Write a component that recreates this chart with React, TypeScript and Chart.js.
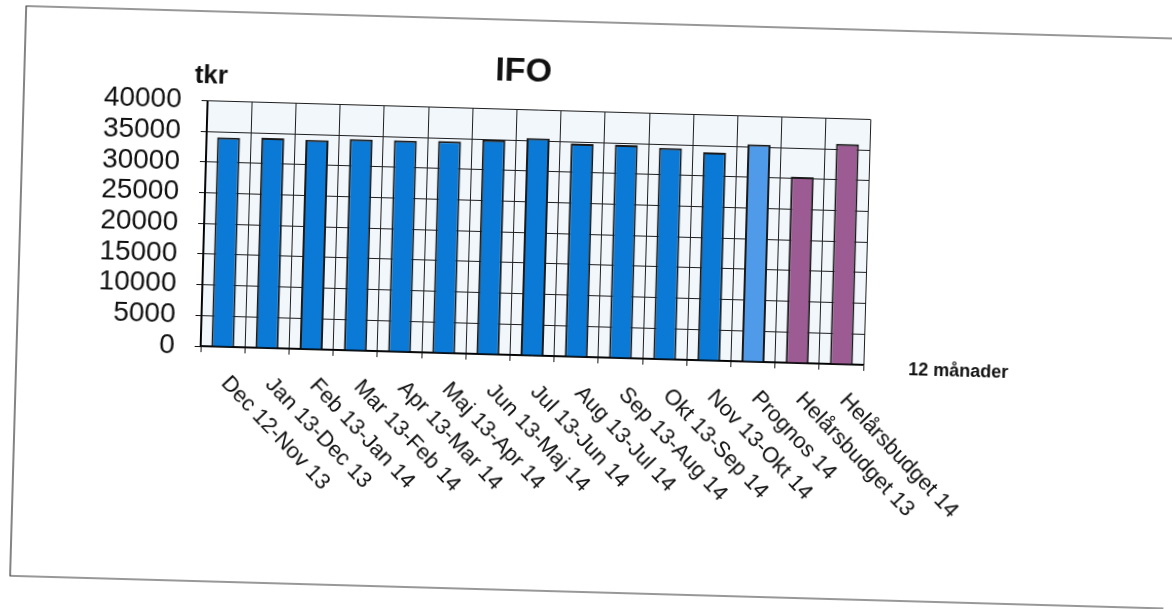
import { useEffect, useRef } from "react";
import { Chart, registerables } from "chart.js";

Chart.register(...registerables);

const categories = [
  "Dec 12-Nov 13",
  "Jan 13-Dec 13",
  "Feb 13-Jan 14",
  "Mar 13-Feb 14",
  "Apr 13-Mar 14",
  "Maj 13-Apr 14",
  "Jun 13-Maj 14",
  "Jul 13-Jun 14",
  "Aug 13-Jul 14",
  "Sep 13-Aug 14",
  "Okt 13-Sep 14",
  "Nov 13-Okt 14",
  "Prognos 14",
  "Helårsbudget 13",
  "Helårsbudget 14",
];
const values = [34100, 34200, 34100, 34400, 34400, 34500, 34900, 35400, 34700, 34700, 34400, 33900, 35400, 30300, 35900];
const yTicks = [0, 5000, 10000, 15000, 20000, 25000, 30000, 35000, 40000];
const chartTitle = "IFO";
const yUnit = "tkr";
const xAxisTitle = "12 månader";

const FONT = "'Liberation Sans', Arial, sans-serif";

function barColor(i: number): string {
  const label = categories[i];
  if (label.startsWith("Helårsbudget")) return "#9c5b93";
  if (label.startsWith("Prognos")) return "#4f9be9";
  return "#0a7ad6";
}

const decor = {
  id: "decor",
  beforeDraw(chart: any) {
    const { ctx, chartArea } = chart;
    ctx.save();
    ctx.fillStyle = "#ffffff";
    ctx.fillRect(0, 0, chart.width, chart.height);
    ctx.fillStyle = "#f2f7fc";
    ctx.fillRect(chartArea.left, chartArea.top, chartArea.right - chartArea.left, chartArea.bottom - chartArea.top);
    ctx.restore();
  },
  afterDraw(chart: any) {
    const { ctx, chartArea } = chart;
    const xs = chart.scales.x;
    ctx.save();
    // outer frame
    ctx.strokeStyle = "#333";
    ctx.lineWidth = 1.2;
    ctx.beginPath();
    ctx.moveTo(1190, 22);
    ctx.lineTo(18, 22);
    ctx.lineTo(18, 592);
    ctx.lineTo(1190, 592);
    ctx.stroke();

    ctx.fillStyle = "#111";
    // title
    ctx.font = `bold 34px ${FONT}`;
    ctx.textAlign = "center";
    ctx.textBaseline = "alphabetic";
    ctx.fillText(chartTitle, 517, 83);
    // unit
    ctx.font = `bold 26px ${FONT}`;
    ctx.fillText(yUnit, 205, 94);
    // x axis title
    ctx.font = `bold 18px ${FONT}`;
    ctx.fillText(xAxisTitle, 960, 366);

    // rotated category labels
    ctx.font = `22px ${FONT}`;
    ctx.textAlign = "left";
    ctx.textBaseline = "middle";
    categories.forEach((lab, i) => {
      const x = xs.getPixelForValue(i);
      ctx.save();
      ctx.translate(x + 3, chartArea.bottom + 33);
      ctx.rotate(Math.PI / 4);
      ctx.fillText(lab, 0, 0);
      ctx.restore();
    });
    ctx.restore();
  },
};

export default function App() {
  const ref = useRef<HTMLCanvasElement | null>(null);
  useEffect(() => {
    if (!ref.current) return;
    const chart = new Chart(ref.current, {
      type: "bar",
      data: {
        labels: categories,
        datasets: [
          {
            data: values,
            backgroundColor: categories.map((_, i) => barColor(i)),
            borderColor: "#1a1a1a",
            borderWidth: 2,
            barPercentage: 0.52,
            categoryPercentage: 1,
          },
        ],
      },
      options: {
        animation: false,
        responsive: false,
        devicePixelRatio: 1,
        layout: { padding: { top: 111.5, right: 307, bottom: 0, left: 0 } },
        plugins: {
          legend: { display: false },
          title: { display: false },
          tooltip: { enabled: false },
        },
        scales: {
          x: {
            offset: true,
            grid: { display: true, offset: true, color: "#1e1e1e", lineWidth: 1, drawTicks: true, tickLength: 6, tickColor: "#111" },
            border: { display: true, color: "#000", width: 1.6 },
            ticks: { display: false },
            afterFit(scale: any) {
              scale.height = 609 - 357;
            },
          },
          y: {
            min: yTicks[0],
            max: yTicks[yTicks.length - 1],
            grid: { color: "#1e1e1e", lineWidth: 1, tickLength: 6, tickColor: "#111" },
            border: { display: true, color: "#000", width: 1.6 },
            afterBuildTicks(scale: any) {
              scale.ticks = yTicks.map((v) => ({ value: v }));
            },
            ticks: {
              autoSkip: false,
              color: "#111",
              padding: 20,
              font: { family: FONT, size: 28 },
              callback: (v: any) => String(v),
            },
            afterFit(scale: any) {
              scale.width = 202;
            },
          },
        },
      },
      plugins: [decor],
    });
    return () => chart.destroy();
  }, []);

  return (
    <div
      style={{
        position: "fixed",
        left: 0,
        top: 0,
        width: 1172,
        height: 609,
        transform: "rotate(1.62deg)",
        transformOrigin: "586px 304.5px",
      }}
    >
      <canvas ref={ref} width={1172} height={609} style={{ width: 1172, height: 609, display: "block" }} />
    </div>
  );
}
